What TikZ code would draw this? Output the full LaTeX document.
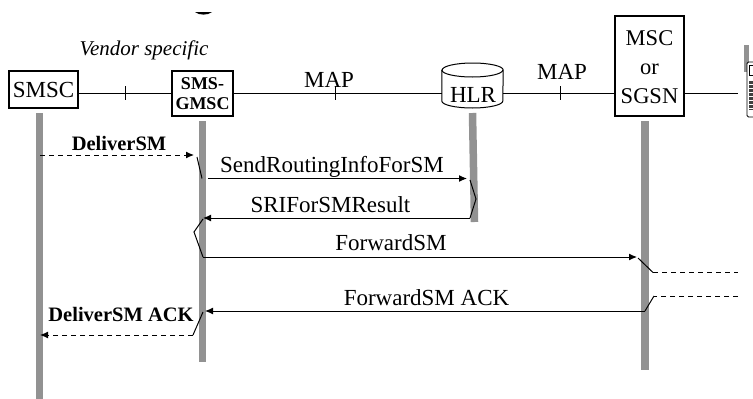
\documentclass[tikz,border=0pt]{standalone}
\usepackage{fontspec}
\setmainfont{Liberation Serif}
\usetikzlibrary{arrows.meta}
\definecolor{lifegray}{HTML}{929292}
\tikzset{
  elembox/.style={draw, line width=1.1pt, fill=white, inner sep=0pt, align=center},
  msgtext/.style={font=\fontsize{23}{25}\selectfont, inner sep=0pt},
  boldtext/.style={font=\fontsize{20.5}{22}\selectfont\bfseries, inner sep=0pt},
  lifeline/.style={lifegray, line width=7.5pt},
  link/.style={line width=1pt},
  msgarrow/.style={line width=1pt, -{Latex[length=8pt,width=7pt]}},
  dasharrow/.style={line width=1pt, dash pattern=on 5pt off 4pt, -{Latex[length=8pt,width=7pt]}},
  dashlink/.style={line width=1pt, dash pattern=on 5pt off 4pt}
}
\begin{document}
\begin{tikzpicture}[x=1pt,y=-1pt]
                \useasboundingbox (0,0) rectangle (753,399);

                % Lifelines
                \draw[lifeline] (39.5,113) -- (39.5,399);
                \draw[lifeline] (202.5,121) -- (202.5,362);
                \draw[lifeline] (472.5,113) -- (474.5,222);
                \draw[lifeline] (645,121) -- (645,370);
                \draw[lifegray, line width=5pt] (746.5,45) -- (746.5,72);

                % Network elements
                \node[elembox, minimum width=69pt, minimum height=37pt, font=\fontsize{23}{25}\selectfont] (smsc) at (43.5,89.5) {SMSC};
                \node[elembox, minimum width=61pt, minimum height=45pt, font=\fontsize{18}{20}\selectfont\bfseries] (gmsc) at (202.5,93.5) {SMS-\\GMSC};
                \node[minimum width=61pt, minimum height=45pt, inner sep=0pt] (hlr) at (472.5,85.5) {};
                \draw[line width=1pt, fill=white] (hlr.west |- 0,70) -- (hlr.west |- 0,101) arc[start angle=180, end angle=360, x radius=30.5, y radius=-7]
                  -- (hlr.east |- 0,70) arc[start angle=0, end angle=180, x radius=30.5, y radius=-7] -- cycle;
                \draw[line width=1pt] (hlr.west |- 0,70) arc[start angle=180, end angle=360, x radius=30.5, y radius=-7];
                \node[msgtext] (hlrtext) at (473,95) {HLR};
                \node[elembox, minimum width=69pt, minimum height=100pt] (msc) at (649.5,66) {};
                \node[inner sep=0pt, align=center, font=\fontsize{22.5}{29}\selectfont] (msctext) at (649.5,67.5) {MSC\\or\\SGSN};

                % Mobile station
                \coordinate (ms) at (738,93);
                \draw[line width=0.8pt, fill=white, rounded corners=1.5pt] (747,62) rectangle (757,117);
                \draw[line width=0.7pt, fill=white] (749,65) rectangle (757,75);
                \fill[black!75] (749,81) rectangle (753,110);
                \foreach \y in {84,88,...,108} {
                  \draw[white, line width=0.6pt] (749,\y) -- (753,\y);
                }

                % Links between the elements
                \draw[link] (smsc.east |- ms) -- (gmsc.west |- ms);
                \draw[link] (gmsc.east |- ms) -- (hlr.west |- ms);
                \draw[link] (hlr.east |- ms) -- (msc.west |- ms);
                \draw[link] (msc.east |- ms) -- (ms);

                % Ticks on the links
                \foreach \xt in {125,335,560} {
                  \draw[line width=0.8pt] (\xt,86) -- (\xt,100);
                }

                % Link labels
                \node[font=\fontsize{21}{23}\selectfont\itshape, inner sep=0pt] (vendor) at (144,50) {Vendor specific};
                \node[msgtext] (mapa) at (329,80) {MAP};
                \node[msgtext] (mapb) at (562,72) {MAP};
                \fill (195,12) .. controls (199,15.5) and (208,15.5) .. (212,12) -- cycle;

                % Bend points of the messages
                \coordinate (dsmin) at (40,155);
                \coordinate (dsmend) at (194,155);
                \coordinate (srista) at (197,157);
                \coordinate (sristb) at (202,178.5);
                \coordinate (srstart) at (208,178.5);
                \coordinate (srend) at (467,178.5);
                \coordinate (hlra) at (470,180);
                \coordinate (hlrb) at (476,199);
                \coordinate (hlrc) at (470,218);
                \coordinate (resend) at (203,218);
                \coordinate (fwa) at (203,219);
                \coordinate (fwb) at (194,232);
                \coordinate (fwc) at (203,257);
                \coordinate (fwend) at (637,257);
                \coordinate (msca) at (638,258);
                \coordinate (mscb) at (653,272.5);
                \coordinate (rightout) at (738,272.5);
                \coordinate (rightin) at (738,296);
                \coordinate (mscc) at (654,296);
                \coordinate (mscd) at (645,311);
                \coordinate (ackend) at (205,311);
                \coordinate (acka) at (203,312);
                \coordinate (ackb) at (193,335);
                \coordinate (dackend) at (40,335);

                % Messages
                \draw[dasharrow] (dsmin) -- (dsmend);
                \draw[link] (srista) -- (sristb);
                \draw[msgarrow] (srstart) -- (srend);
                \draw[link] (hlra) -- (hlrb) -- (hlrc);
                \draw[msgarrow] (hlrc) -- (resend);
                \draw[link] (fwa) -- (fwb) -- (fwc);
                \draw[msgarrow] (fwc) -- (fwend);
                \draw[link] (msca) -- (mscb);
                \draw[dashlink] (mscb) -- (rightout);
                \draw[dashlink] (rightin) -- (mscc);
                \draw[link] (mscc) -- (mscd);
                \draw[msgarrow] (mscd) -- (ackend);
                \draw[link] (acka) -- (ackb);
                \draw[dasharrow] (ackb) -- (dackend);

                % Message labels
                \node[boldtext] (dsmtext) at (119,143) {DeliverSM};
                \node[msgtext] (sritext) at (332,167) {SendRoutingInfoForSM};
                \node[msgtext] (restext) at (330.5,205) {SRIForSMResult};
                \node[msgtext] (fwtext) at (391,243) {ForwardSM};
                \node[msgtext] (acktext) at (426.5,298) {ForwardSM ACK};
                \node[boldtext] (dacktext) at (121,314) {DeliverSM ACK};
            \end{tikzpicture}
\end{document}
